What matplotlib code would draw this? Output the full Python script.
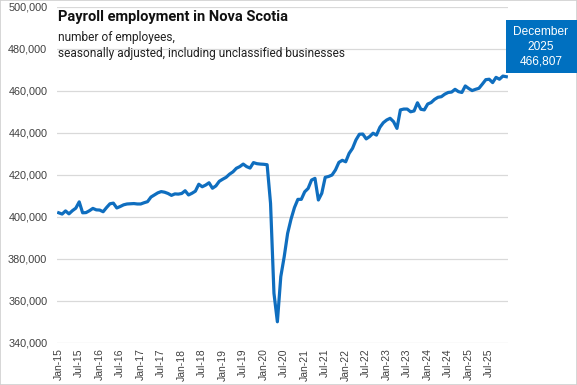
import matplotlib.pyplot as plt
from matplotlib.patches import Rectangle
from matplotlib.ticker import FuncFormatter
import numpy as np

# Payroll employment, Nova Scotia, monthly Jan-2015 .. Dec-2025 (thousands)
emp_2015 = [402.0, 401.4, 402.9, 401.5, 403.0, 404.2, 407.2, 402.0, 402.1, 403.0, 404.1, 403.4]
emp_2016 = [403.3, 402.5, 404.5, 406.3, 406.6, 404.3, 405.0, 405.8, 406.2, 406.3, 406.4, 406.2]
emp_2017 = [406.2, 406.8, 407.3, 409.5, 410.5, 411.5, 412.1, 411.8, 411.2, 410.3, 411.0, 410.9]
emp_2018 = [411.2, 412.5, 410.5, 411.3, 412.3, 415.6, 414.4, 415.2, 416.3, 413.7, 414.8, 417.0]
emp_2019 = [418.0, 418.9, 420.4, 421.5, 423.2, 424.0, 425.2, 424.0, 423.3, 425.9, 425.4, 425.2]
emp_2020 = [425.1, 424.9, 406.5, 363.7, 350.1, 371.6, 381.1, 392.2, 399.0, 404.5, 408.4, 408.4]
emp_2021 = [412.0, 413.6, 417.6, 418.4, 408.1, 411.3, 418.9, 419.3, 420.0, 422.4, 426.0, 427.0]
emp_2022 = [426.3, 430.3, 432.7, 436.7, 439.4, 439.5, 437.2, 438.3, 439.9, 439.0, 442.7, 444.9]
emp_2023 = [446.2, 447.0, 445.4, 442.2, 451.0, 451.4, 451.4, 450.1, 450.5, 454.4, 451.3, 451.0]
emp_2024 = [453.8, 454.5, 456.0, 457.0, 457.3, 458.5, 459.3, 459.5, 460.8, 459.7, 459.3, 462.4]
emp_2025 = [461.2, 460.2, 460.8, 461.3, 463.3, 465.4, 465.6, 464.0, 466.5, 465.6, 467.1, 466.807]

years = list(range(2015, 2026))
months = ["Jan", "Feb", "Mar", "Apr", "May", "Jun", "Jul", "Aug", "Sep", "Oct", "Nov", "Dec"]
employment = np.array(emp_2015 + emp_2016 + emp_2017 + emp_2018 + emp_2019 + emp_2020
                      + emp_2021 + emp_2022 + emp_2023 + emp_2024 + emp_2025) * 1000
labels = [f"{m}-{str(y)[2:]}" for y in years for m in months]

last_label = "December\n2025\n466,807"

BLUE = "#0F6EBF"

fig = plt.figure(figsize=(5.77, 3.85), dpi=100)
ax = fig.add_axes([57 / 577, 1 - 343 / 385, 451 / 577, 336 / 385])

x = np.arange(len(employment))
ax.plot(x, employment, color=BLUE, lw=2.3, solid_joinstyle="round", zorder=3)

ax.set_xlim(-0.5, len(employment) - 0.5)
ax.set_ylim(340000, 500000)
ax.set_yticks(np.arange(340000, 500001, 20000))
ax.yaxis.set_major_formatter(FuncFormatter(lambda v, p: f"{int(v):,}"))
ax.set_xticks(x[::6])
ax.set_xticklabels(labels[::6], rotation=90, fontsize=7.5, family="Liberation Sans", color="#404040")
for t in ax.get_yticklabels():
    t.set_fontsize(7.8)
    t.set_family("Liberation Sans")
    t.set_color("#404040")
ax.tick_params(length=0, pad=4)
ax.tick_params(axis="y", pad=7)
ax.grid(axis="y", color="#d9d9d9", lw=0.9)
ax.set_axisbelow(True)
for s in ax.spines.values():
    s.set_visible(False)

# title block
fig.text(58 / 577, 1 - 17 / 385, "Payroll employment in Nova Scotia", fontsize=10.5,
         fontweight="bold", family="Roboto", va="center", ha="left", color="#111111")
fig.text(58 / 577, 1 - 37 / 385, "number of employees,", fontsize=8.6,
         family="Roboto", va="center", ha="left", color="#222222")
fig.text(58 / 577, 1 - 53 / 385, "seasonally adjusted, including unclassified businesses", fontsize=8.6,
         family="Roboto", va="center", ha="left", color="#222222")

# last value box
fig.patches.append(Rectangle((506 / 577, 1 - 73 / 385), 71 / 577, 53 / 385,
                             transform=fig.transFigure, facecolor="#0070C0", edgecolor="none", zorder=5))
fig.text(541 / 577, 1 - 46.5 / 385, last_label, fontsize=8.6, family="Liberation Sans",
         color="white", ha="center", va="center", linespacing=1.3, zorder=6)

# outer frame
fig.patches.append(Rectangle((0, 0), 1, 1, transform=fig.transFigure, fill=False,
                             edgecolor="#d0d0d0", lw=1.2))

fig.savefig("out.png", dpi=100)
